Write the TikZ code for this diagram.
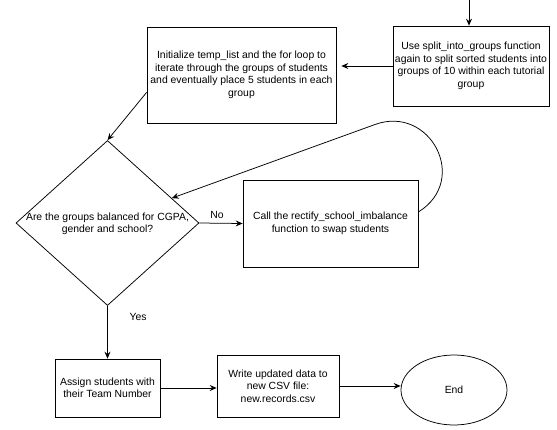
\documentclass[tikz,border=0pt]{standalone}
\usepackage{fontspec}
\setmainfont{Liberation Sans}
\usetikzlibrary{arrows.meta,shapes.geometric,calc}
\begin{document}
\begin{tikzpicture}[x=1pt,y=-1pt,
  every node/.style={font=\fontsize{10.4}{12.5}\selectfont, align=center, inner sep=0pt},
  box/.style={draw, line width=0.75pt, rectangle},
  ln/.style={line width=0.75pt},
  arr/.style={ln, -{Stealth[length=7pt,width=6pt,inset=2.5pt]}}]
\useasboundingbox (0,0) rectangle (557,429);
\node[box, minimum width=156pt, minimum height=80pt] (B1) at (471,66)
  {Use split\_into\_groups function\\again to split sorted students into\\groups of 10 within each tutorial\\group};
\node[box, minimum width=189pt, minimum height=96pt] (B2) at (241.5,75)
  {Initialize temp\_list and the for loop to\\iterate through the groups of students\\and eventually place 5 students in each\\group};
\node[draw, ln, diamond, minimum width=183pt, minimum height=165pt] (D) at (107.5,223) {};
\node (Dt) at (107.5,224) {Are the groups balanced for CGPA,\\gender and school?};
\node[box, minimum width=175pt, minimum height=87pt] (B3) at (330.5,223.5)
  {Call the rectify\_school\_imbalance\\function to swap students};
\node[box, minimum width=105pt, minimum height=58pt] (B4) at (107.5,388)
  {Assign students with\\their Team Number};
\node[box, minimum width=122pt, minimum height=62pt] (B5) at (278,386)
  {Write updated data to\\new CSV file:\\new.records.csv};
\node[draw, ln, ellipse, minimum width=106pt, minimum height=70pt] (E) at (454,390) {End};
\node (No) at (217,215) {No};
\node (Yes) at (138,317) {Yes};
\coordinate (top) at (469,0);
\coordinate (b2out) at ($(B2.south west)+(0,-31)$);
\coordinate (dhit) at ($(D.north)!0.7!(D.east)$);
\coordinate (b3out) at ($(B3.east)+(0,-11.5)$);
\draw[arr] (top) -- (top |- B1.north);
\draw[arr, shorten >=5pt] (B1.west) -- (B1.west -| B2.east);
\draw[arr] (b2out) -- (D.north);
\draw[arr] (D.east) -- (B3.west);
\draw[arr] (b3out) .. controls (470,180) and (430,104.5) .. (375,124.5) -- (dhit);
\draw[arr] (D.south) -- (B4.north);
\draw[arr] (B4.east) -- (B4.east -| B5.west);
\draw[arr] (B5.east) -- (B5.east -| E.west);
\end{tikzpicture}
\end{document}
